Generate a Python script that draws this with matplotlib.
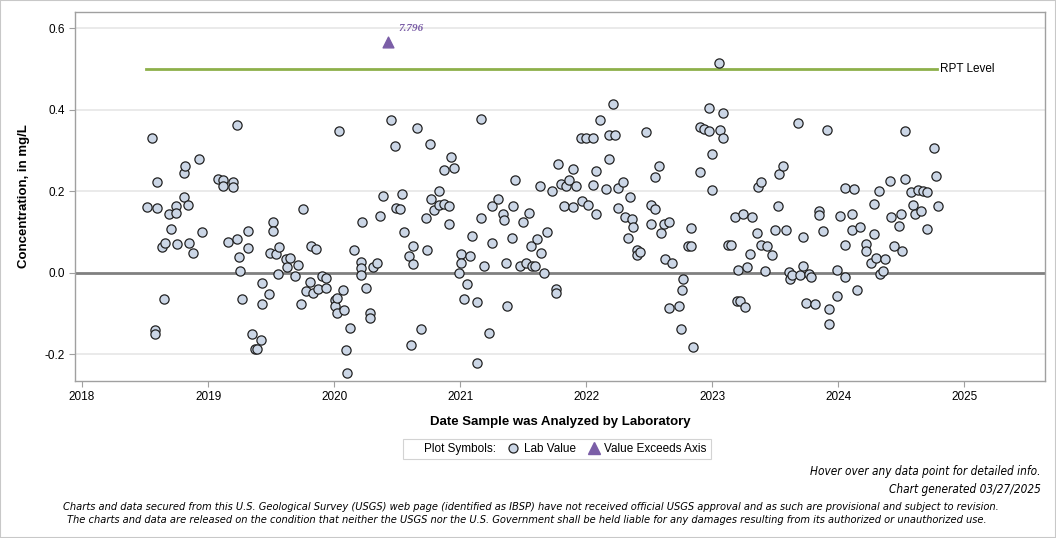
import numpy as np
import matplotlib
matplotlib.use('Agg')
import matplotlib.pyplot as plt
from matplotlib.lines import Line2D
from matplotlib.patches import Rectangle

# analysis dates (decimal years) and lab values, mg/L
dates = [
    2018.518, 2018.558, 2018.582, 2018.582, 2018.598, 2018.598, 2018.637, 2018.653,
    2018.659, 2018.690, 2018.709, 2018.748, 2018.748, 2018.754, 2018.810, 2018.812,
    2018.817, 2018.844, 2018.852, 2018.883, 2018.931, 2018.950, 2019.082, 2019.121,
    2019.121, 2019.161, 2019.201, 2019.201, 2019.228, 2019.233, 2019.248, 2019.256,
    2019.270, 2019.320, 2019.320, 2019.347, 2019.370, 2019.391, 2019.423, 2019.431,
    2019.431, 2019.487, 2019.492, 2019.518, 2019.518, 2019.542, 2019.558, 2019.566,
    2019.619, 2019.629, 2019.653, 2019.693, 2019.717, 2019.741, 2019.756, 2019.778,
    2019.812, 2019.817, 2019.836, 2019.860, 2019.875, 2019.905, 2019.934, 2019.934,
    2020.008, 2020.008, 2020.026, 2020.026, 2020.042, 2020.069, 2020.082, 2020.095,
    2020.106, 2020.127, 2020.161, 2020.217, 2020.217, 2020.217, 2020.225, 2020.254,
    2020.286, 2020.286, 2020.310, 2020.339, 2020.360, 2020.391, 2020.455, 2020.479,
    2020.492, 2020.526, 2020.542, 2020.558, 2020.590, 2020.606, 2020.625, 2020.629,
    2020.661, 2020.688, 2020.725, 2020.733, 2020.764, 2020.767, 2020.796, 2020.833,
    2020.833, 2020.868, 2020.871, 2020.915, 2020.915, 2020.929, 2020.952, 2020.994,
    2021.008, 2021.008, 2021.034, 2021.058, 2021.074, 2021.095, 2021.137, 2021.137,
    2021.167, 2021.167, 2021.190, 2021.225, 2021.252, 2021.256, 2021.304, 2021.336,
    2021.344, 2021.360, 2021.375, 2021.415, 2021.423, 2021.437, 2021.471, 2021.502,
    2021.521, 2021.550, 2021.558, 2021.571, 2021.590, 2021.609, 2021.630, 2021.643,
    2021.669, 2021.690, 2021.725, 2021.764, 2021.764, 2021.780, 2021.802, 2021.820,
    2021.841, 2021.860, 2021.899, 2021.899, 2021.915, 2021.955, 2021.963, 2021.995,
    2022.018, 2022.050, 2022.050, 2022.079, 2022.079, 2022.111, 2022.153, 2022.177,
    2022.183, 2022.209, 2022.225, 2022.249, 2022.254, 2022.288, 2022.304, 2022.328,
    2022.344, 2022.360, 2022.375, 2022.402, 2022.399, 2022.423, 2022.476, 2022.516,
    2022.516, 2022.542, 2022.548, 2022.574, 2022.590, 2022.614, 2022.622, 2022.653,
    2022.659, 2022.677, 2022.733, 2022.754, 2022.756, 2022.770, 2022.804, 2022.828,
    2022.833, 2022.849, 2022.905, 2022.905, 2022.931, 2022.971, 2022.971, 2022.998,
    2022.998, 2023.053, 2023.058, 2023.082, 2023.082, 2023.121, 2023.145, 2023.177,
    2023.196, 2023.201, 2023.217, 2023.246, 2023.256, 2023.272, 2023.296, 2023.312,
    2023.352, 2023.360, 2023.389, 2023.389, 2023.415, 2023.431, 2023.471, 2023.494,
    2023.518, 2023.526, 2023.558, 2023.582, 2023.609, 2023.619, 2023.635, 2023.677,
    2023.693, 2023.717, 2023.717, 2023.740, 2023.764, 2023.780, 2023.812, 2023.849,
    2023.849, 2023.875, 2023.910, 2023.923, 2023.923, 2023.987, 2023.987, 2024.010,
    2024.050, 2024.050, 2024.050, 2024.106, 2024.106, 2024.122, 2024.145, 2024.169,
    2024.217, 2024.217, 2024.256, 2024.280, 2024.280, 2024.296, 2024.320, 2024.328,
    2024.352, 2024.367, 2024.407, 2024.415, 2024.439, 2024.479, 2024.494, 2024.502,
    2024.532, 2024.532, 2024.574, 2024.590, 2024.611, 2024.629, 2024.653, 2024.669,
    2024.701, 2024.701, 2024.762, 2024.778, 2024.788,
]
values = [
    0.162, 0.330, -0.140, -0.150, 0.223, 0.160, 0.064, -0.064,
    0.074, 0.145, 0.109, 0.164, 0.147, 0.071, 0.245, 0.187,
    0.263, 0.166, 0.074, 0.049, 0.280, 0.100, 0.231, 0.227,
    0.213, 0.076, 0.224, 0.212, 0.083, 0.363, 0.040, 0.004,
    -0.064, 0.103, 0.061, -0.150, -0.187, -0.187, -0.164, -0.025,
    -0.076, -0.052, 0.050, 0.124, 0.102, 0.046, -0.002, 0.064,
    0.034, 0.015, 0.037, -0.007, 0.020, -0.076, 0.157, -0.045,
    -0.022, 0.065, -0.049, 0.058, -0.039, -0.007, -0.038, -0.013,
    -0.066, -0.081, -0.061, -0.097, 0.348, -0.042, -0.091, -0.189,
    -0.245, -0.135, 0.056, 0.027, 0.011, -0.005, 0.124, -0.038,
    -0.098, -0.110, 0.014, 0.025, 0.140, 0.188, 0.375, 0.311,
    0.160, 0.157, 0.193, 0.100, 0.042, -0.177, 0.066, 0.022,
    0.355, -0.138, 0.135, 0.056, 0.317, 0.181, 0.155, 0.201,
    0.167, 0.252, 0.169, 0.164, 0.120, 0.284, 0.257, -0.001,
    0.047, 0.025, -0.065, -0.027, 0.042, 0.091, -0.072, -0.220,
    0.377, 0.135, 0.017, -0.148, 0.164, 0.073, 0.181, 0.145,
    0.130, 0.025, -0.081, 0.086, 0.164, 0.227, 0.016, 0.124,
    0.024, 0.146, 0.066, 0.018, 0.016, 0.083, 0.213, 0.049,
    -0.001, 0.100, 0.201, -0.040, -0.049, 0.267, 0.218, 0.164,
    0.214, 0.227, 0.254, 0.161, 0.213, 0.330, 0.177, 0.330,
    0.166, 0.330, 0.215, 0.250, 0.144, 0.375, 0.206, 0.338,
    0.280, 0.415, 0.338, 0.209, 0.160, 0.223, 0.136, 0.086,
    0.187, 0.133, 0.113, 0.056, 0.044, 0.052, 0.346, 0.167,
    0.120, 0.157, 0.235, 0.263, 0.098, 0.121, 0.034, 0.125,
    -0.086, 0.025, -0.082, -0.137, -0.043, -0.015, 0.065, 0.110,
    0.065, -0.182, 0.358, 0.248, 0.352, 0.405, 0.348, 0.292,
    0.204, 0.515, 0.351, 0.393, 0.330, 0.069, 0.069, 0.136,
    -0.069, 0.007, -0.069, 0.144, -0.084, 0.015, 0.047, 0.137,
    0.097, 0.210, 0.224, 0.069, 0.004, 0.066, 0.044, 0.106,
    0.164, 0.243, 0.263, 0.106, 0.002, -0.014, -0.006, 0.368,
    -0.004, 0.088, 0.017, -0.074, -0.002, -0.010, -0.077, 0.152,
    0.141, 0.103, 0.350, -0.088, -0.126, 0.007, -0.057, 0.139,
    0.208, 0.069, -0.011, 0.144, 0.106, 0.205, -0.042, 0.113,
    0.071, 0.053, 0.024, 0.168, 0.096, 0.036, 0.201, -0.002,
    0.005, 0.034, 0.226, 0.137, 0.066, 0.115, 0.144, 0.053,
    0.348, 0.230, 0.199, 0.167, 0.144, 0.204, 0.152, 0.201,
    0.199, 0.108, 0.307, 0.238, 0.164,
]

# value beyond the axis: drawn at the top, labelled with its real value
exceed_date = [2020.43]
exceed_plot_at = [0.566]
exceed_label = ['7.796']

rpt_level = 0.5
rpt_start, rpt_end = 2018.51, 2024.78

year_ticks = [2018, 2019, 2020, 2021, 2022, 2023, 2024, 2025]
y_ticks = [-0.2, 0.0, 0.2, 0.4, 0.6]

plt.rcParams['font.family'] = ['Liberation Sans', 'DejaVu Sans']

fig = plt.figure(figsize=(10.56, 5.38), dpi=100)
ax = fig.add_axes([75 / 1056, 1 - 381 / 538, 970 / 1056, 369 / 538])

ax.set_xlim(2017.944, 2025.64)
ax.set_ylim(-0.265, 0.64)

for yv in y_ticks:
    if yv == 0.0:
        ax.axhline(yv, color='#808080', lw=2, zorder=1)
    else:
        ax.axhline(yv, color='#e6e6e6', lw=1.2, zorder=0)

ax.plot([rpt_start, rpt_end], [rpt_level, rpt_level], color='#8db04a', lw=2, zorder=2)
ax.text(rpt_end + 0.03, rpt_level, 'RPT Level', fontsize=8.5, va='center', ha='left')

ax.scatter(dates, values, s=44, facecolor='#cbd6e6', edgecolor='#222222',
           linewidth=0.9, zorder=3)

ax.scatter(exceed_date, exceed_plot_at, marker='^', s=60, color='#7b5ea7', zorder=3)
for d, yv, lab in zip(exceed_date, exceed_plot_at, exceed_label):
    ax.annotate(lab, (d, yv), xytext=(7, 8), textcoords='offset points',
                fontsize=8, color='#7b5ea7', fontweight='bold', fontstyle='italic',
                family='Liberation Serif')

ax.set_xticks(year_ticks)
ax.set_xticklabels([str(y) for y in year_ticks])
ax.set_yticks(y_ticks)
ax.set_yticklabels(['%.1f' % v for v in y_ticks])
ax.tick_params(axis='both', labelsize=8.5, color='#a0a0a0', length=4, width=0.8)
for sp in ax.spines.values():
    sp.set_color('#a0a0a0')
    sp.set_linewidth(1)

ax.set_xlabel('Date Sample was Analyzed by Laboratory', fontsize=9.5,
              fontweight='bold', labelpad=9)
ax.set_ylabel('Concentration, in mg/L', fontsize=9.5, fontweight='bold', labelpad=10)

# legend
handles = [
    Line2D([], [], linestyle='none', marker=None),
    Line2D([], [], linestyle='none', marker='o', markersize=6.5,
           markerfacecolor='#cbd6e6', markeredgecolor='#222222', markeredgewidth=0.9),
    Line2D([], [], linestyle='none', marker='^', markersize=8, color='#7b5ea7'),
]
labels = ['Plot Symbols:', 'Lab Value', 'Value Exceeds Axis']
leg = fig.legend(handles, labels, loc='center', bbox_to_anchor=(557 / 1056, 1 - 449 / 538),
                 ncol=3, fontsize=8.5, frameon=True, fancybox=False, handlelength=1.0,
                 handletextpad=0.4, columnspacing=1.0, borderpad=0.35)
leg.get_frame().set_edgecolor('#c8c8c8')
leg.get_frame().set_linewidth(0.8)

foot = dict(fontstyle='italic', family='DejaVu Sans', fontstretch='condensed')
fig.text(1041 / 1056, 1 - 472 / 538, 'Hover over any data point for detailed info.',
         ha='right', va='center', fontsize=8.5, **foot)
fig.text(1041 / 1056, 1 - 489 / 538, 'Chart generated 03/27/2025',
         ha='right', va='center', fontsize=8.5, **foot)
fig.text(531 / 1056, 1 - 507 / 538,
         'Charts and data secured from this U.S. Geological Survey (USGS) web page (identified as IBSP) '
         'have not received official USGS approval and as such are provisional and subject to revision.',
         ha='center', va='center', fontsize=7.9, **foot)
fig.text(527 / 1056, 1 - 520 / 538,
         'The charts and data are released on the condition that neither the USGS nor the U.S. Government '
         'shall be held liable for any damages resulting from its authorized or unauthorized use.',
         ha='center', va='center', fontsize=7.9, **foot)

fig.patches.append(Rectangle((0, 0), 1, 1, transform=fig.transFigure, fill=False,
                             edgecolor='#c8c8c8', lw=1.5))

fig.savefig('out.png', dpi=100)
